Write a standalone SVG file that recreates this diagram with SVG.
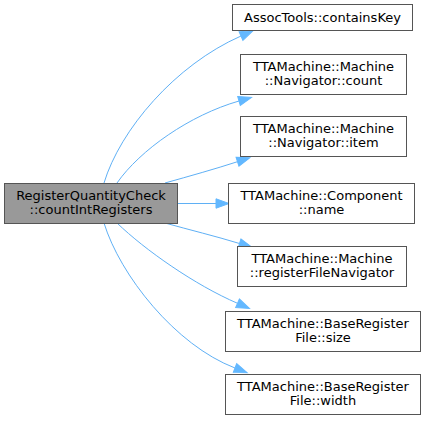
<svg xmlns="http://www.w3.org/2000/svg" width="425" height="421" viewBox="0 0 425 421">
<style>
.node rect{fill:#ffffff;stroke:#555555;stroke-width:1}
.node.main rect{fill:#999999}
.node text{font-family:"DejaVu Sans",sans-serif;font-size:13px;fill:#000000;text-anchor:middle}
.edges path{fill:none;stroke:#5fb0f5;stroke-width:1}
</style>
<defs>
<marker id="arr" markerUnits="userSpaceOnUse" markerWidth="16" markerHeight="12" refX="0" refY="5" orient="auto" overflow="visible">
<polygon points="0,0.3 13,5 0,9.7" fill="#63b8ff" stroke="#63b8ff" stroke-width="1"/>
</marker>
</defs>
<rect width="425" height="421" fill="#ffffff"/>
<g class="edges">
<path d="M104,183 C120,130 175,65 241,36" marker-end="url(#arr)"/>
<path d="M117,183 C140,150 190,115 239,101" marker-end="url(#arr)"/>
<path d="M165,183 C190,176 215,169 237.5,161.7" marker-end="url(#arr)"/>
<path d="M177,203.5 L216,203.5" marker-end="url(#arr)"/>
<path d="M165,223 C190,230 215,236 239.5,243.5" marker-end="url(#arr)"/>
<path d="M117,223 C145,250 195,285 237.5,303.3" marker-end="url(#arr)"/>
<path d="M104,223 C120,275 175,345 235,368" marker-end="url(#arr)"/>
</g>
<g id="node-main" class="node main">
<rect x="4.5" y="183.5" width="173" height="40"/>
<text x="91" y="200">RegisterQuantityCheck</text>
<text x="91" y="214">::countIntRegisters</text>
</g>
<g id="node-containsKey" class="node">
<rect x="232.5" y="4.5" width="180" height="26"/>
<text x="322.5" y="22">AssocTools::containsKey</text>
</g>
<g id="node-count" class="node">
<rect x="240.5" y="54.5" width="166" height="40"/>
<text x="323.5" y="71">TTAMachine::Machine</text>
<text x="323.5" y="85">::Navigator::count</text>
</g>
<g id="node-item" class="node">
<rect x="240.5" y="116.5" width="166" height="40"/>
<text x="323.5" y="133">TTAMachine::Machine</text>
<text x="323.5" y="147">::Navigator::item</text>
</g>
<g id="node-name" class="node">
<rect x="228.5" y="183.5" width="186" height="40"/>
<text x="321.5" y="200">TTAMachine::Component</text>
<text x="321.5" y="214">::name</text>
</g>
<g id="node-registerFileNavigator" class="node">
<rect x="237.5" y="246.5" width="169" height="40"/>
<text x="322" y="263">TTAMachine::Machine</text>
<text x="322" y="277">::registerFileNavigator</text>
</g>
<g id="node-size" class="node">
<rect x="225.5" y="311.5" width="195" height="40"/>
<text x="323" y="328">TTAMachine::BaseRegister</text>
<text x="323" y="342">File::size</text>
</g>
<g id="node-width" class="node">
<rect x="225.5" y="374.5" width="195" height="40"/>
<text x="323" y="391">TTAMachine::BaseRegister</text>
<text x="323" y="405">File::width</text>
</g>
</svg>
